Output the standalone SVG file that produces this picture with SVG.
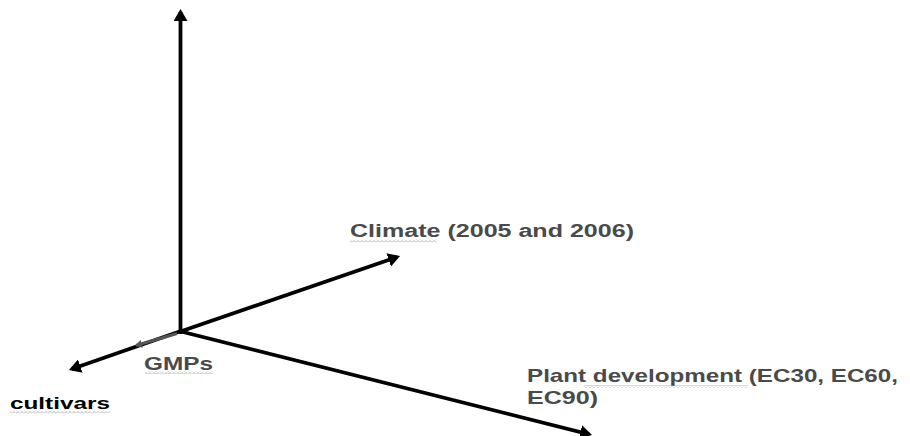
<svg xmlns="http://www.w3.org/2000/svg" width="910" height="436" viewBox="0 0 910 436">
<style>
.ax{stroke:#000;stroke-width:3.8;fill:none;marker-end:url(#ah)}
.lbl{font-family:"Liberation Sans",Arial,sans-serif;font-weight:bold;fill:#4a4a4a}
</style>
<defs>
<marker id="ah" markerUnits="userSpaceOnUse" markerWidth="14" markerHeight="14" refX="9" refY="7" orient="auto">
<path d="M0,0 L12,7 L0,14 z" fill="#000"/>
</marker>
<marker id="sm" markerUnits="userSpaceOnUse" markerWidth="8" markerHeight="8" refX="6" refY="4" orient="auto">
<path d="M0,0 L7,4 L0,8 z" fill="#555"/>
</marker>
<pattern id="wv" width="4" height="3" patternUnits="userSpaceOnUse"><path d="M0,2.5 L2,0.5 L4,2.5" stroke="#a0a0a0" stroke-width="0.8" fill="none"/></pattern>
</defs>
<g id="connectors">
<line class="ax" x1="180.5" y1="334" x2="180.5" y2="12"/>
<line class="ax" x1="179" y1="332" x2="397.2" y2="257"/>
<line class="ax" x1="179" y1="331" x2="589.1" y2="434.3"/>
<line class="ax" x1="181" y1="331" x2="71.8" y2="369"/>
<line x1="177" y1="333.5" x2="136" y2="345.5" stroke="#555" stroke-width="3" marker-end="url(#sm)"/>
</g>
<g id="climate">
<text class="lbl" x="350" y="237" font-size="18" textLength="284" lengthAdjust="spacingAndGlyphs">Climate (2005 and 2006)</text>
<rect x="350" y="239.5" width="87" height="3" fill="url(#wv)"/>
</g>
<g id="plant-development">
<text class="lbl" x="527" y="382" font-size="19" textLength="371" lengthAdjust="spacingAndGlyphs">Plant development (EC30, EC60,</text>
<text class="lbl" x="527" y="404" font-size="19" textLength="71" lengthAdjust="spacingAndGlyphs">EC90)</text>
<rect x="584" y="385" width="164" height="3" fill="url(#wv)"/>
</g>
<g id="gmps">
<text class="lbl" x="144" y="370" font-size="18" textLength="69" lengthAdjust="spacingAndGlyphs">GMPs</text>
<rect x="145" y="371" width="68" height="3" fill="url(#wv)"/>
</g>
<g id="cultivars">
<text class="lbl" x="10" y="409" font-size="17" style="fill:#000" textLength="100" lengthAdjust="spacingAndGlyphs">cultivars</text>
<rect x="10" y="410.5" width="100" height="3" fill="url(#wv)"/>
</g>
</svg>
